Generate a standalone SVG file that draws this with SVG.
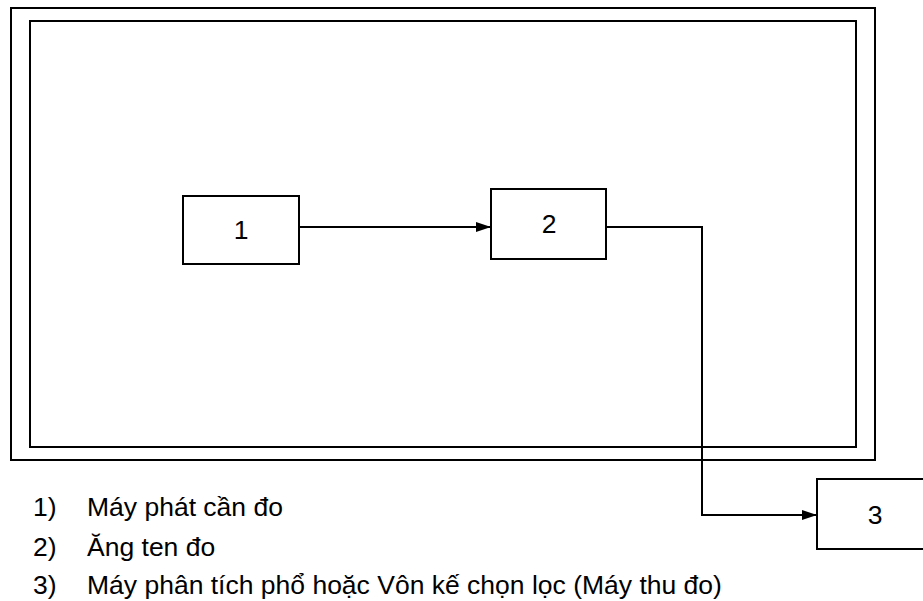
<svg xmlns="http://www.w3.org/2000/svg" width="923" height="601" viewBox="0 0 923 601">
  <style>
    .frame { fill: none; stroke: #000; stroke-width: 2; }
    .box { fill: #fff; stroke: #000; stroke-width: 2; }
    .wire { fill: none; stroke: #000; stroke-width: 2; }
    .num { font-family: "Liberation Sans", Arial, sans-serif; font-size: 26.5px; fill: #000; text-anchor: middle; }
    .legend { font-family: "Liberation Sans", Arial, sans-serif; font-size: 26.5px; fill: #000; }
  </style>
  <defs>
    <marker id="arrow" markerUnits="userSpaceOnUse" markerWidth="15" markerHeight="10" refX="15" refY="5" orient="auto">
      <path d="M0,0 L15,5 L0,10 Z" fill="#000"/>
    </marker>
  </defs>
  <rect width="923" height="601" fill="#fff"/>

  <!-- double enclosure -->
  <g id="enclosure">
    <rect class="frame" x="11" y="8" width="864" height="452"/>
    <rect class="frame" x="30" y="21" width="826" height="426"/>
  </g>

  <!-- connectors -->
  <g id="connectors">
    <line class="wire" x1="299" y1="227" x2="491" y2="227" marker-end="url(#arrow)"/>
    <polyline class="wire" points="606,227 702,227 702,515 817,515" marker-end="url(#arrow)"/>
  </g>

  <g id="node1">
    <rect class="box" x="183" y="196" width="116" height="68"/>
    <text class="num" x="241" y="239">1</text>
  </g>
  <g id="node2">
    <rect class="box" x="491" y="189" width="115" height="70"/>
    <text class="num" x="549" y="233">2</text>
  </g>
  <g id="node3">
    <rect class="box" x="817" y="479" width="110" height="70"/>
    <text class="num" x="875" y="524">3</text>
  </g>

  <!-- key -->
  <g id="legend">
    <text class="legend" x="33" y="516">1)</text>
    <text class="legend" x="87" y="516">Máy phát cần đo</text>
    <text class="legend" x="33" y="556">2)</text>
    <text class="legend" x="87" y="556">Ăng ten đo</text>
    <text class="legend" x="33" y="594">3)</text>
    <text class="legend" x="87" y="594">Máy phân tích phổ hoặc Vôn kế chọn lọc (Máy thu đo)</text>
  </g>
</svg>
